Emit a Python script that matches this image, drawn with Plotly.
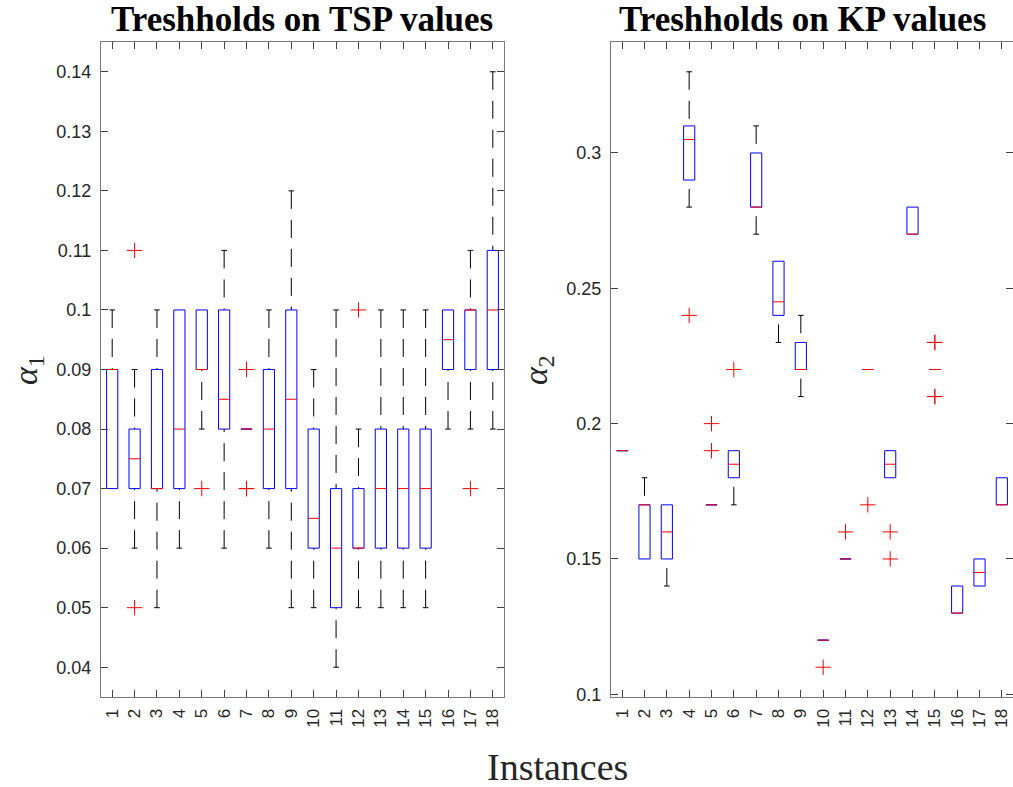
import plotly.graph_objects as go

# ---------------- data ----------------
instances = list(range(1, 19))

# TSP thresholds (alpha_1): box statistics per instance
tsp_q1 = [0.07, 0.07, 0.07, 0.07, 0.09, 0.08, 0.08, 0.07, 0.07,
          0.06, 0.05, 0.06, 0.06, 0.06, 0.06, 0.09, 0.09, 0.09]
tsp_med = [0.09, 0.075, 0.07, 0.08, 0.09, 0.085, 0.08, 0.08, 0.085,
           0.065, 0.06, 0.06, 0.07, 0.07, 0.07, 0.095, 0.10, 0.10]
tsp_q3 = [0.09, 0.08, 0.09, 0.10, 0.10, 0.10, 0.08, 0.09, 0.10,
          0.08, 0.07, 0.07, 0.08, 0.08, 0.08, 0.10, 0.10, 0.11]
tsp_lo = [0.07, 0.06, 0.05, 0.06, 0.08, 0.06, 0.08, 0.06, 0.05,
          0.05, 0.04, 0.05, 0.05, 0.05, 0.05, 0.08, 0.08, 0.08]
tsp_hi = [0.10, 0.09, 0.10, 0.10, 0.10, 0.11, 0.08, 0.10, 0.12,
          0.09, 0.10, 0.08, 0.10, 0.10, 0.10, 0.10, 0.11, 0.14]
tsp_out = [[], [0.11, 0.05], [], [], [0.07], [], [0.09, 0.09, 0.07, 0.07], [], [],
           [], [], [0.10], [], [], [], [], [0.07], []]

# KP thresholds (alpha_2): box statistics per instance
kp_q1 = [0.19, 0.15, 0.15, 0.29, 0.17, 0.18, 0.28, 0.24, 0.22,
         0.12, 0.15, 0.22, 0.18, 0.27, 0.22, 0.13, 0.14, 0.17]
kp_med = [0.19, 0.17, 0.16, 0.305, 0.17, 0.185, 0.28, 0.245, 0.22,
          0.12, 0.15, 0.22, 0.185, 0.27, 0.22, 0.13, 0.145, 0.17]
kp_q3 = [0.19, 0.17, 0.17, 0.31, 0.17, 0.19, 0.30, 0.26, 0.23,
         0.12, 0.15, 0.22, 0.19, 0.28, 0.22, 0.14, 0.15, 0.18]
kp_lo = [0.19, 0.15, 0.14, 0.28, 0.17, 0.17, 0.27, 0.23, 0.21,
         0.12, 0.15, 0.22, 0.18, 0.27, 0.22, 0.13, 0.14, 0.17]
kp_hi = [0.19, 0.18, 0.17, 0.33, 0.17, 0.19, 0.31, 0.26, 0.24,
         0.12, 0.15, 0.22, 0.19, 0.28, 0.22, 0.14, 0.15, 0.18]
kp_out = [[], [], [], [0.24], [0.20, 0.19], [0.22], [], [], [],
          [0.11], [0.16], [0.17], [0.16, 0.15], [], [0.23, 0.23, 0.21, 0.21], [], [], []]

tsp_yticks = [0.04, 0.05, 0.06, 0.07, 0.08, 0.09, 0.10, 0.11, 0.12, 0.13, 0.14]
tsp_yticktext = ["0.04", "0.05", "0.06", "0.07", "0.08", "0.09", "0.1",
                 "0.11", "0.12", "0.13", "0.14"]
kp_yticks = [0.10, 0.15, 0.20, 0.25, 0.30]
kp_yticktext = ["0.1", "0.15", "0.2", "0.25", "0.3"]

# ---------------- styling ----------------
W, H = 1013, 787
BOX_HALF = 0.25
CAP_HALF = 0.125
TICK_FONT = "Liberation Sans"
SERIF = "Liberation Serif"


def box_traces(xs, q1, med, q3, lo, hi, outl, xa, ya):
    wx, wy, cx, cy, bx, by, mx, my, ox, oy = ([] for _ in range(10))
    for x, a, m, b, l, h, o in zip(xs, q1, med, q3, lo, hi, outl):
        # whiskers are drawn from the adjacent value towards the box
        if h > b:
            wx += [x, x, None]; wy += [h, b, None]
            cx += [x - CAP_HALF, x + CAP_HALF, None]; cy += [h, h, None]
        if l < a:
            wx += [x, x, None]; wy += [l, a, None]
            cx += [x - CAP_HALF, x + CAP_HALF, None]; cy += [l, l, None]
        bx += [x - BOX_HALF, x + BOX_HALF, x + BOX_HALF, x - BOX_HALF, x - BOX_HALF, None]
        by += [a, a, b, b, a, None]
        mx += [x - BOX_HALF, x + BOX_HALF, None]; my += [m, m, None]
        for v in o:
            ox.append(x); oy.append(v)
    common = dict(xaxis=xa, yaxis=ya, showlegend=False, hoverinfo="skip")
    return [
        go.Scatter(x=wx, y=wy, mode="lines",
                   line=dict(color="black", width=1, dash="18px,11px"), **common),
        go.Scatter(x=cx, y=cy, mode="lines", line=dict(color="black", width=1), **common),
        go.Scatter(x=bx, y=by, mode="lines", line=dict(color="#0000ff", width=1), **common),
        go.Scatter(x=mx, y=my, mode="lines", line=dict(color="#ff0000", width=1), **common),
        go.Scatter(x=ox, y=oy, mode="markers",
                   marker=dict(symbol="cross-thin", size=11,
                               line=dict(color="#ff0000", width=1)), **common),
    ]


fig = go.Figure()
for t in box_traces(instances, tsp_q1, tsp_med, tsp_q3, tsp_lo, tsp_hi, tsp_out, "x", "y"):
    fig.add_trace(t)
for t in box_traces(instances, kp_q1, kp_med, kp_q3, kp_lo, kp_hi, kp_out, "x2", "y2"):
    fig.add_trace(t)

y_dom = [1 - 697 / H, 1 - 42 / H]
axis_common = dict(showline=True, linecolor="#7a7a7a", linewidth=1, mirror="ticks",
                   ticks="inside", ticklen=7, tickcolor="#404040", tickwidth=1,
                   showgrid=False, zeroline=False, automargin=False)
xaxis_common = dict(axis_common, range=[0.5, 18.5], tickvals=instances,
                    ticktext=[str(i) for i in instances], tickangle=-90,
                    ticklabelstandoff=4,
                    tickfont=dict(family=TICK_FONT, size=17, color="#262626"))
yaxis_common = dict(axis_common, domain=y_dom, ticklabelstandoff=5,
                    tickfont=dict(family=TICK_FONT, size=18, color="#262626"))

fig.update_layout(
    width=W, height=H,
    margin=dict(l=0, r=0, t=0, b=0, pad=0),
    paper_bgcolor="white", plot_bgcolor="white",
    xaxis=dict(xaxis_common, domain=[101 / W, 504 / W], anchor="y"),
    yaxis=dict(yaxis_common, anchor="x", range=[0.035, 0.145],
               tickvals=tsp_yticks, ticktext=tsp_yticktext),
    xaxis2=dict(xaxis_common, domain=[611 / W, 1.0], anchor="y2"),
    yaxis2=dict(yaxis_common, anchor="x2", range=[0.099, 0.341],
                tickvals=kp_yticks, ticktext=kp_yticktext),
)

annotations = [
    dict(text="<b>Treshholds on TSP values</b>", x=302 / W, y=1 - 20 / H,
         font=dict(family=SERIF, size=35, color="black")),
    dict(text="<b>Treshholds on KP values</b>", x=802 / W, y=1 - 20 / H,
         font=dict(family=SERIF, size=35, color="black")),
    dict(text="Instances", x=557 / W, y=1 - 767 / H,
         font=dict(family=SERIF, size=38, color="#262626")),
    dict(text="<i>α</i><sub>1</sub>", x=28 / W, y=1 - 370 / H, textangle=-90,
         font=dict(family=SERIF, size=34, color="#262626")),
    dict(text="<i>α</i><sub>2</sub>", x=538 / W, y=1 - 370 / H, textangle=-90,
         font=dict(family=SERIF, size=34, color="#262626")),
]
for a in annotations:
    fig.add_annotation(xref="paper", yref="paper", showarrow=False,
                       xanchor="center", yanchor="middle", **a)

fig.write_html("out.html")
